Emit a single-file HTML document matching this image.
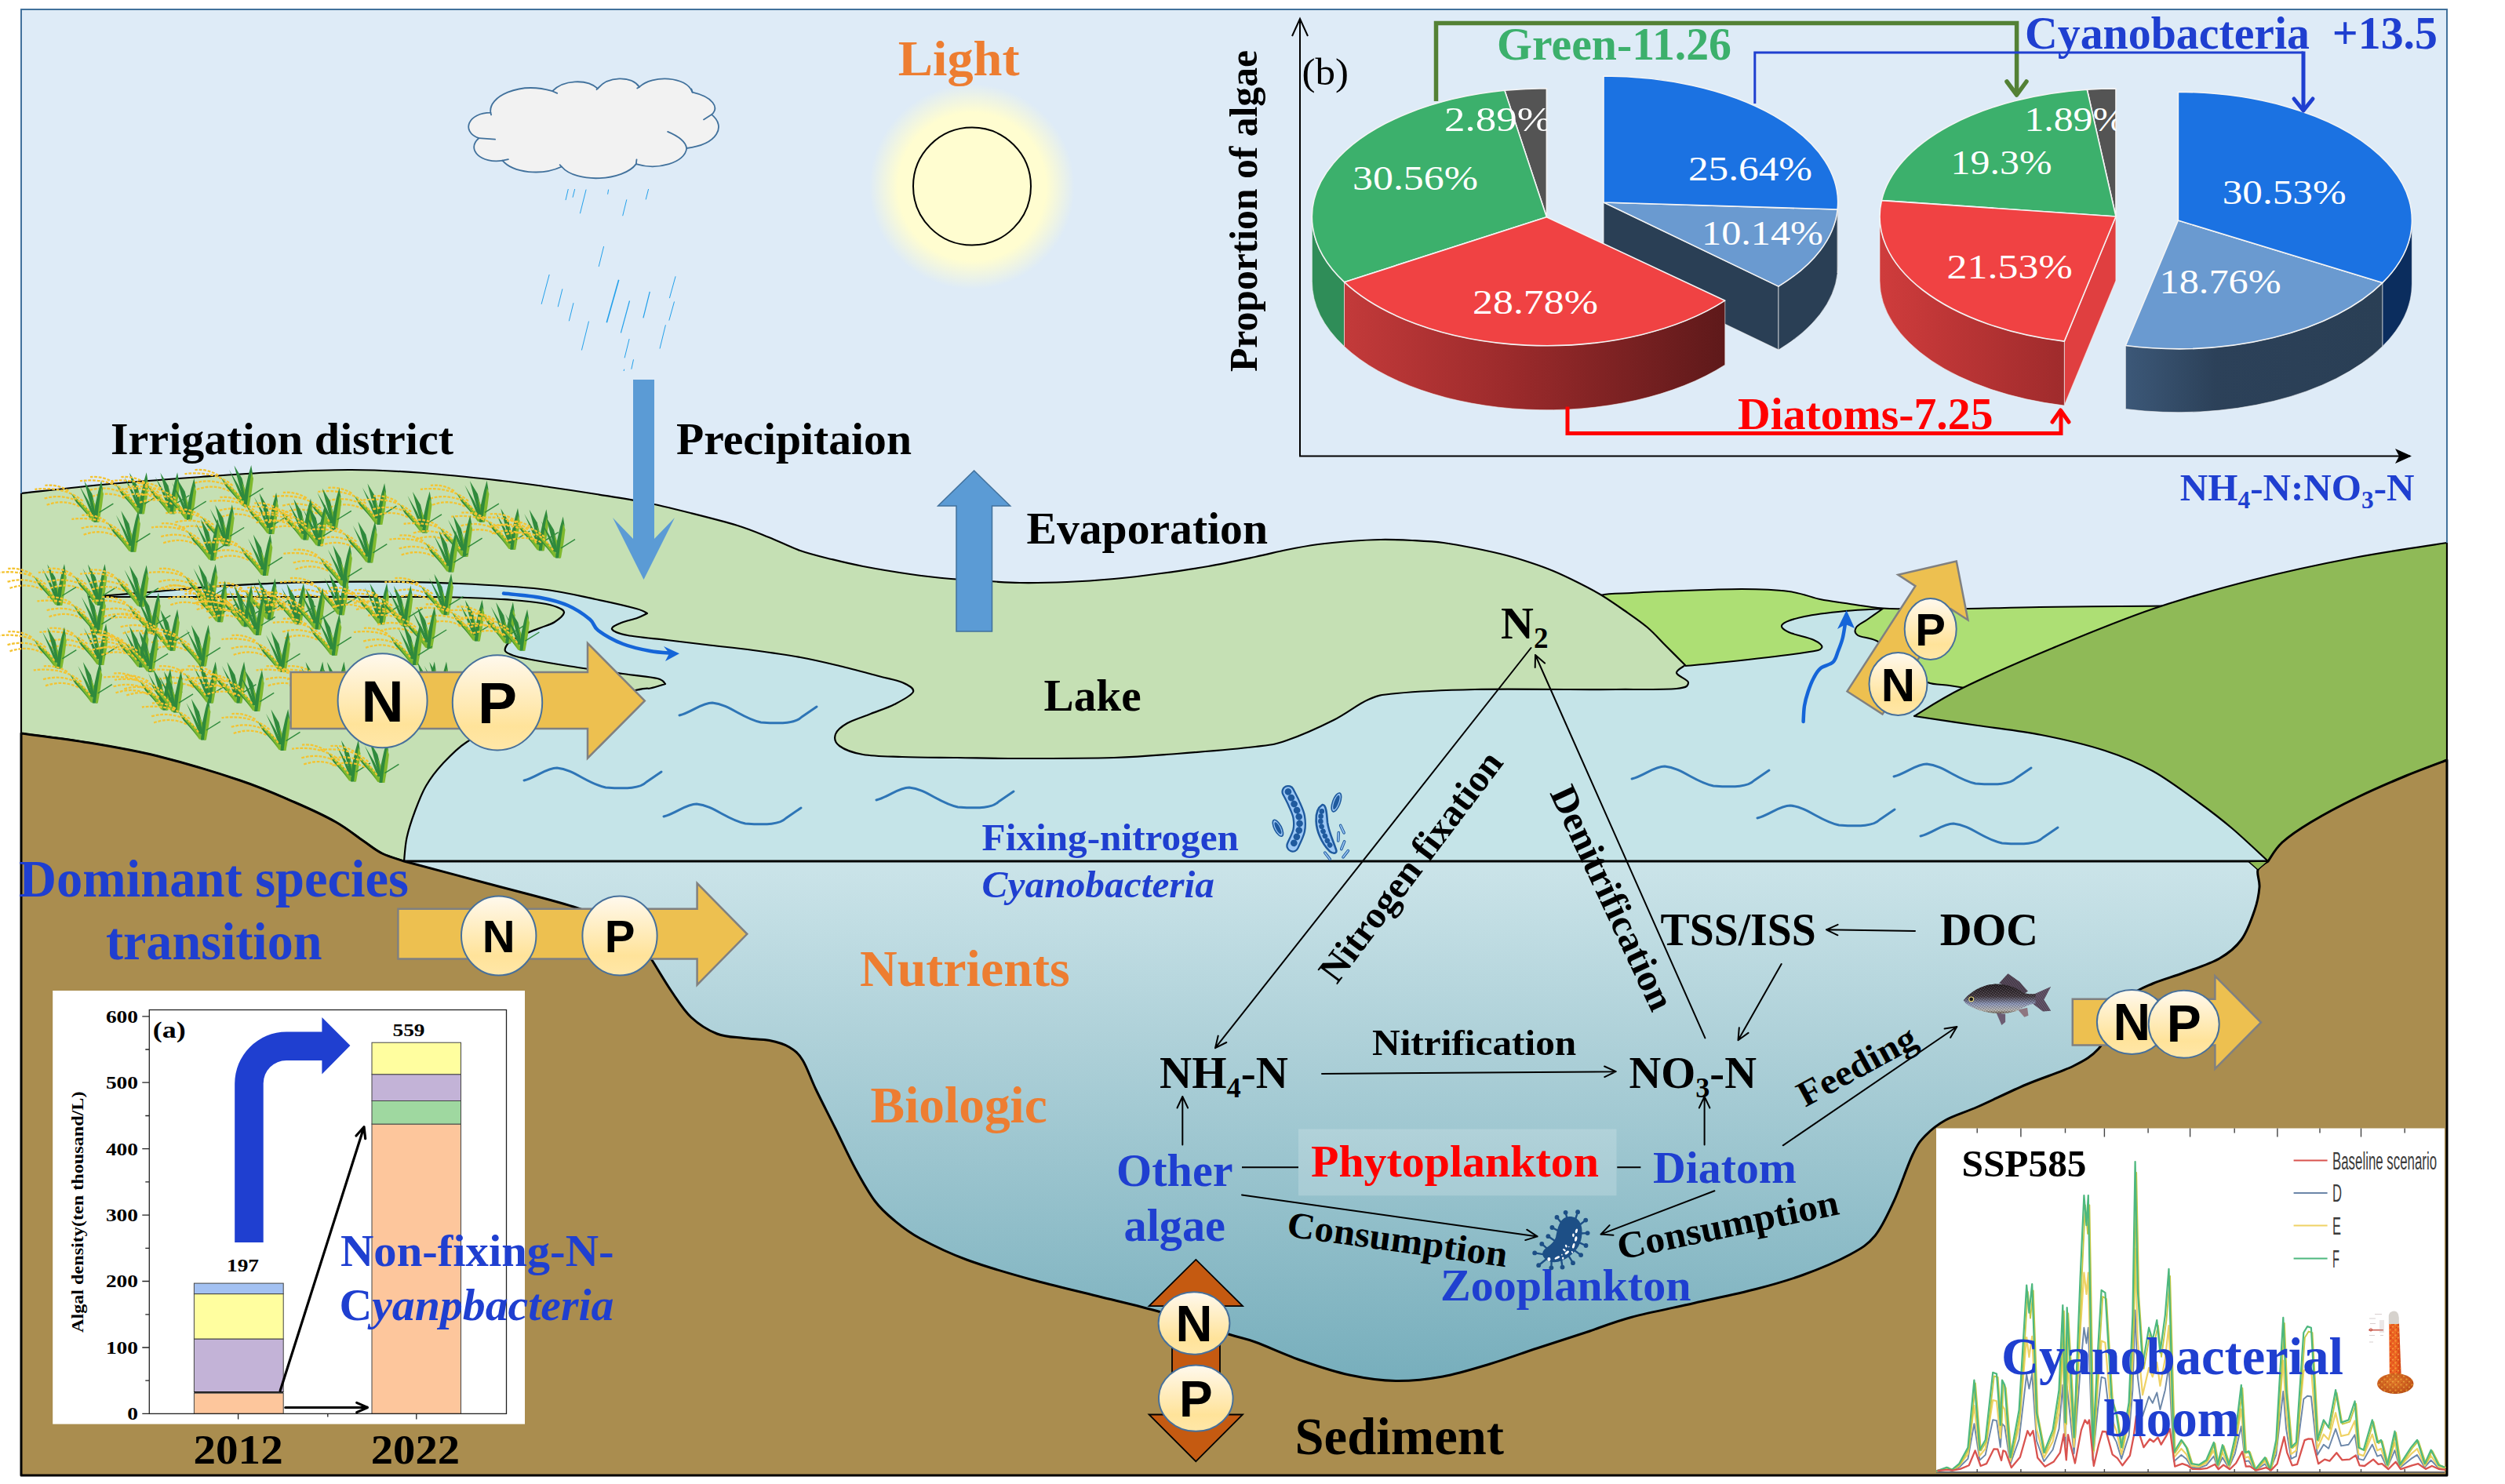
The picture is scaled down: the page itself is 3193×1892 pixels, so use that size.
<!DOCTYPE html>
<html lang="en"><head><meta charset="utf-8"><title>Lake nitrogen cycle and cyanobacterial bloom diagram</title>
<style>html,body{margin:0;padding:0;background:#fff}svg{display:block}</style></head><body>
<svg width="3193" height="1892" viewBox="0 0 3193 1892">
<defs>
<linearGradient id="lakeg" x1="0" x2="0" y1="0" y2="1"><stop offset="0" stop-color="#cbe4e9"/><stop offset="0.35" stop-color="#add0d8"/><stop offset="1" stop-color="#75adbb"/></linearGradient>
<linearGradient id="npg" x1="0" x2="0" y1="0" y2="1"><stop offset="0" stop-color="#fff9ee"/><stop offset="0.75" stop-color="#ffe39a"/><stop offset="1" stop-color="#ffe7a8"/></linearGradient>
<radialGradient id="sung"><stop offset="0" stop-color="#fffdd0"/><stop offset="0.72" stop-color="#fffdd0"/><stop offset="1" stop-color="#fffdd0" stop-opacity="0"/></radialGradient>
<symbol id="rice" overflow="visible"><g fill="none" stroke="#f4c330" stroke-width="2.3" stroke-dasharray="3.8 1.8"><path d="M-16,-27 C-30,-39 -50,-45 -77,-42"/><path d="M-18,-24 C-32,-33 -48,-35 -66,-30"/><path d="M-20,-20 C-34,-27 -48,-27 -62,-22"/><path d="M-34,-40 C-44,-46 -54,-48 -64,-47"/></g><path d="M1,0 L-4,-1 L-31,-37 L-12,-20 L-2,-8 Z" fill="#7fb92e"/><path d="M-3,-2 L-31,-37 L-24,-25 Z" fill="#2f8a3c"/><path d="M-4,-8 L-12,-28 L-20.5,-47.4 L-8.5,-27 L0,-8 Z" fill="#2f8a3c"/><path d="M-2,-8 L-9,-33 L-14,-52.5 L-4,-36 L1,-16 L2,-4 Z" fill="#2f8a3c"/><path d="M0,-12 L-4,-31 L0,-22 L2,-6 Z" fill="#7fb92e"/><path d="M-2,0 L0,-22 L4,-40 L7.7,-53 L9.5,-42 L8,-26 L5,-10 L4,0 Z" fill="#2f8a3c"/><path d="M2,0 L5,-24 L8,-44 L10.5,-36 L8.5,-20 L5,0 Z" fill="#7fb92e"/><path d="M5,-12.5 L23,-23.7" stroke="#2f8a3c" stroke-width="1.4" fill="none"/><g fill="none" stroke="#f4c330" stroke-width="2.2" stroke-dasharray="3.4 2"><path d="M-5,-10 C-11,-19 -18,-26 -27,-31"/></g></symbol></defs>
<rect width="3193" height="1892" fill="#fff"/>
<rect x="27" y="12" width="3092" height="1869" fill="#deebf7"/>
<rect x="100" y="740" width="1100" height="360" fill="#c5e4e8"/>
<rect x="1190" y="850" width="1720" height="250" fill="#c5e4e8"/>
<path d="M2010,775 C2015,772.3 2028.3,762.2 2040,759 C2051.7,755.8 2066.7,756.8 2080,756 C2093.3,755.2 2096.7,754.8 2120,754 C2143.3,753.2 2193.3,751 2220,751 C2246.7,751 2263.3,751.8 2280,754 C2296.7,756.2 2308,761.5 2320,764 C2332,766.5 2338.7,767.1 2352,769 C2365.3,770.9 2385.3,774.3 2400,775.5 C2414.7,776.7 2421.8,775.9 2440,776 C2458.2,776.1 2482.3,776.3 2509,776 C2535.7,775.7 2561.7,774.5 2600,774 C2638.3,773.5 2705.7,773 2739,772.7 C2772.3,772.4 2789.8,772.1 2800,772 L2800,905 L2010,905 Z" fill="#addf74"/>
<path d="M2010,775 C2015,772.3 2028.3,762.2 2040,759 C2051.7,755.8 2066.7,756.8 2080,756 C2093.3,755.2 2096.7,754.8 2120,754 C2143.3,753.2 2193.3,751 2220,751 C2246.7,751 2263.3,751.8 2280,754 C2296.7,756.2 2308,761.5 2320,764 C2332,766.5 2338.7,767.1 2352,769 C2365.3,770.9 2385.3,774.3 2400,775.5 C2414.7,776.7 2421.8,775.9 2440,776 C2458.2,776.1 2482.3,776.3 2509,776 C2535.7,775.7 2561.7,774.5 2600,774 C2638.3,773.5 2705.7,773 2739,772.7 C2772.3,772.4 2789.8,772.1 2800,772" fill="none" stroke="#000" stroke-width="2"/>
<path d="M2148,849 C2156.7,848.2 2174.7,846.8 2200,844 C2225.3,841.2 2279.7,835 2300,832 C2320.3,829 2320,828.7 2322,826 C2324,823.3 2319,819.3 2312,816 C2305,812.7 2286.7,809.3 2280,806 C2273.3,802.7 2268.7,799.3 2272,796 C2275.3,792.7 2286.7,788.8 2300,786 C2313.3,783.2 2335.3,780.7 2352,779 C2368.7,777.3 2392,776.5 2400,776 C2396.7,778.3 2385.7,786 2380,790 C2374.3,794 2368,796.7 2366,800 C2364,803.3 2363.7,807.2 2368,810 C2372.3,812.8 2383.3,812.8 2392,817 C2400.7,821.2 2412,828.7 2420,835 C2428,841.3 2433.8,849.2 2440,855 C2446.2,860.8 2449.5,866.8 2457,870 C2464.5,873.2 2476,872.7 2485,874 C2494,875.3 2506.7,877.3 2511,878 L2530,940 L2000,940 L2000,840 Z" fill="#c5e4e8"/>
<path d="M2148,849 C2156.7,848.2 2174.7,846.8 2200,844 C2225.3,841.2 2279.7,835 2300,832 C2320.3,829 2320,828.7 2322,826 C2324,823.3 2319,819.3 2312,816 C2305,812.7 2286.7,809.3 2280,806 C2273.3,802.7 2268.7,799.3 2272,796 C2275.3,792.7 2286.7,788.8 2300,786 C2313.3,783.2 2335.3,780.7 2352,779 C2368.7,777.3 2392,776.5 2400,776 C2396.7,778.3 2385.7,786 2380,790 C2374.3,794 2368,796.7 2366,800 C2364,803.3 2363.7,807.2 2368,810 C2372.3,812.8 2383.3,812.8 2392,817 C2400.7,821.2 2412,828.7 2420,835 C2428,841.3 2433.8,849.2 2440,855 C2446.2,860.8 2449.5,866.8 2457,870 C2464.5,873.2 2476,872.7 2485,874 C2494,875.3 2506.7,877.3 2511,878" fill="none" stroke="#000" stroke-width="2" stroke-linejoin="round"/>
<path d="M27,629 C45.8,627 101.8,620.5 140,617 C178.2,613.5 221,610.5 256,608 C291,605.5 318,603.5 350,602 C382,600.5 416.3,598.8 448,599 C479.7,599.2 508,600.7 540,603 C572,605.3 613.3,610 640,613 C666.7,616 680,618.2 700,621 C720,623.8 740,626.8 760,630 C780,633.2 800,636 820,640 C840,644 860,649 880,654 C900,659 923.3,664.8 940,670 C956.7,675.2 966.7,679.7 980,685 C993.3,690.3 1006.7,697.3 1020,702 C1033.3,706.7 1046.7,709.7 1060,713 C1073.3,716.3 1083.3,718.8 1100,722 C1116.7,725.2 1141.3,729.3 1160,732 C1178.7,734.7 1195.3,736.5 1212,738 C1228.7,739.5 1245.3,740.2 1260,741 C1274.7,741.8 1283.3,742.8 1300,743 C1316.7,743.2 1340,742.8 1360,742 C1380,741.2 1400,739.8 1420,738 C1440,736.2 1460,733.7 1480,731 C1500,728.3 1520,725.5 1540,722 C1560,718.5 1583.3,713.5 1600,710 C1616.7,706.5 1626.7,703.7 1640,701 C1653.3,698.3 1666.7,695.8 1680,694 C1693.3,692.2 1706.7,691 1720,690 C1733.3,689 1746.7,688.2 1760,688 C1773.3,687.8 1786.7,688.3 1800,689 C1813.3,689.7 1826.7,690.3 1840,692 C1853.3,693.7 1866.7,696.3 1880,699 C1893.3,701.7 1908.3,705 1920,708 C1931.7,711 1940,713.7 1950,717 C1960,720.3 1970,723.8 1980,728 C1990,732.2 2000,737 2010,742 C2020,747 2030,752 2040,758 C2050,764 2060,771 2070,778 C2080,785 2091,792.3 2100,800 C2109,807.7 2116,816 2124,824 C2132,832 2144,844 2148,848 C2146.2,849.7 2136.3,854.3 2137,858 C2137.7,861.7 2152,866.7 2152,870 C2152,873.3 2152.3,876.5 2137,878 C2121.7,879.5 2082.8,878.8 2060,879 C2037.2,879.2 2030,879 2000,879 C1970,879 1916.7,878.2 1880,879 C1843.3,879.8 1802.7,881.8 1780,884 C1757.3,886.2 1757.3,886.3 1744,892 C1730.7,897.7 1717.3,909.3 1700,918 C1682.7,926.7 1656.7,938.3 1640,944 C1623.3,949.7 1623.3,949.2 1600,952 C1576.7,954.8 1530,958.7 1500,961 C1470,963.3 1453.3,965 1420,966 C1386.7,967 1333.3,967 1300,967 C1266.7,967 1245,966.3 1220,966 C1195,965.7 1170,965.7 1150,965 C1130,964.3 1113.3,964.3 1100,962 C1086.7,959.7 1075.8,955.3 1070,951 C1064.2,946.7 1063.3,940.8 1065,936 C1066.7,931.2 1072.5,926.3 1080,922 C1087.5,917.7 1100,914 1110,910 C1120,906 1131,902.7 1140,898 C1149,893.3 1162.3,886.7 1164,882 C1165.7,877.3 1157.3,873.3 1150,870 C1142.7,866.7 1133.3,865.5 1120,862 C1106.7,858.5 1086.7,853 1070,849 C1053.3,845 1038.3,841.3 1020,838 C1001.7,834.7 980,831.7 960,829 C940,826.3 918.3,824.2 900,822 C881.7,819.8 866.7,818 850,816 C833.3,814 811.7,812.3 800,810 C788.3,807.7 781.3,804.7 780,802 C778.7,799.3 786.7,796.3 792,794 C797.3,791.7 806.5,790 812,788 C817.5,786 822.8,783 825,782 C822.7,781 822,779 811,776 C800,773 779.3,768.2 759,764 C738.7,759.8 718,754.3 689,751 C660,747.7 619.8,745.6 585,744 C550.2,742.4 514.8,741.8 480,741.6 C445.2,741.4 410.8,741.6 376,742.7 C341.2,743.8 302,746 271,748 C240,750 216.2,752.8 190,755 C163.8,757.2 126.7,760 114,761 C128.5,761 157.3,761 201,761 C244.7,761 317.8,761 376,761 C434.2,761 509.3,760.7 550,761 C590.7,761.3 602.7,762.3 620,763 C637.3,763.7 642.3,764 654,765 C665.7,766 680.7,767.5 690,769 C699.3,770.5 705.2,772 710,774 C714.8,776 719.5,777.8 719,781 C718.5,784.2 711.8,789.8 707,793 C702.2,796.2 695.8,797.7 690,800 C684.2,802.3 677.8,804.5 672,807 C666.2,809.5 659.2,812.7 655,815 C650.8,817.3 648.8,818.5 647,821 C645.2,823.5 642.7,827.5 644,830 C645.3,832.5 650.3,834.3 655,836 C659.7,837.7 660.5,837.8 672,840 C683.5,842.2 703.7,845.8 724,849 C744.3,852.2 775,856.3 794,859 C813,861.7 829,862.8 838,865 C847,867.2 846.3,870.8 848,872 C844.8,872.9 835.3,876.2 829,877.5 C822.7,878.8 831.5,875.4 810,880 C788.5,884.6 728.3,897.5 700,905 C671.7,912.5 657.5,918.2 640,925 C622.5,931.8 607.7,937.8 595,946 C582.3,954.2 572.7,964.7 564,974 C555.3,983.3 548.8,992 543,1002 C537.2,1012 533.1,1023 529,1034 C524.9,1045 520.8,1057.3 518.5,1068 C516.2,1078.7 515.6,1093 515,1098 C510.3,1096.3 495.7,1092.3 487,1088 C478.3,1083.7 472.8,1078.7 463,1072 C453.2,1065.3 442.5,1056.2 428,1048 C413.5,1039.8 396.3,1031.8 376,1023 C355.7,1014.2 335.2,1004.8 306,995 C276.8,985.2 233,972 201,964 C169,956 143,951.8 114,947 C85,942.2 41.5,937 27,935 Z" fill="#c5e0b4" stroke="#000" stroke-width="2.2" stroke-linejoin="round"/>
<path d="M2440,913 C2450.3,907 2472.5,891.5 2502,877 C2531.5,862.5 2576.5,842.8 2617,826 C2657.5,809.2 2702.3,790.5 2745,776 C2787.7,761.5 2830.3,749.8 2873,739 C2915.7,728.2 2960,718.8 3001,711 C3042,703.2 3099.3,695.2 3119,692 L3119,969 L3067,989 L3006,1016 L2946,1048 L2909,1074 L2891,1098 C2883.3,1091 2859.5,1068.3 2845,1056 C2830.5,1043.7 2820.8,1036.2 2804,1024 C2787.2,1011.8 2764.2,994.2 2744,983 C2723.8,971.8 2706.7,964.7 2683,957 C2659.3,949.3 2629,942.3 2602,937 C2575,931.7 2548,929 2521,925 C2494,921 2453.5,915 2440,913 Z" fill="#8fba57" stroke="#000" stroke-width="2.2" stroke-linejoin="round"/>
<rect x="500" y="1098" width="2400" height="680" fill="url(#lakeg)"/>
<line x1="512" y1="1098" x2="2891" y2="1098" stroke="#000" stroke-width="2.8"/>
<path d="M27,935 C41.5,937 85,942.2 114,947 C143,951.8 169,956 201,964 C233,972 276.8,985.2 306,995 C335.2,1004.8 355.7,1014.2 376,1023 C396.3,1031.8 413.5,1039.8 428,1048 C442.5,1056.2 453.2,1065.3 463,1072 C472.8,1078.7 478.3,1083.7 487,1088 C495.7,1092.3 510.3,1096.3 515,1098 C532.5,1102.7 584,1116.3 620,1126 C656,1135.7 702.7,1147 731,1156 C759.3,1165 776,1172.7 790,1180 C804,1187.3 808.2,1192.7 815,1200 C821.8,1207.3 824.2,1213.3 831,1224 C837.8,1234.7 847.7,1251.8 856,1264 C864.3,1276.2 871.3,1288 881,1297 C890.7,1306 902.8,1313.6 914,1318 C925.2,1322.4 936.8,1322.1 948,1323.5 C959.2,1324.9 971.3,1324.6 981,1326.5 C990.7,1328.4 999,1330.8 1006,1335 C1013,1339.2 1017.3,1342.5 1023,1351.5 C1028.7,1360.5 1033,1374.4 1040,1389 C1047,1403.6 1056.7,1422.2 1065,1439 C1073.3,1455.8 1081.7,1474.2 1090,1489.5 C1098.3,1504.8 1106.7,1519.9 1115,1531 C1123.3,1542.1 1130.3,1548 1140,1556 C1149.7,1564 1157.7,1570.7 1173,1579 C1188.3,1587.3 1208.3,1597.2 1232,1606 C1255.7,1614.8 1287.2,1623.8 1315,1631.5 C1342.8,1639.2 1371.5,1645.6 1399,1652.5 C1426.5,1659.4 1452.2,1664.9 1480,1673 C1507.8,1681.1 1546,1694.7 1566,1701 C1586,1707.3 1584.3,1705.3 1600,1711 C1615.7,1716.7 1640,1728 1660,1735 C1680,1742 1700.2,1748.8 1720,1753 C1739.8,1757.2 1759.2,1760.2 1779,1760.5 C1798.8,1760.8 1819,1758.6 1839,1755 C1859,1751.4 1879,1745 1899,1739 C1919,1733 1939,1725.6 1959,1719 C1979,1712.4 1999,1706.1 2019,1699.5 C2039,1692.9 2055.7,1685.8 2079,1679.5 C2102.3,1673.2 2132.5,1667.5 2159,1661.5 C2185.5,1655.5 2214.8,1649.5 2238,1643.5 C2261.2,1637.5 2278,1632.8 2298,1625.5 C2318,1618.2 2342.7,1607.8 2358,1599.5 C2373.3,1591.2 2380.7,1586.8 2390,1575.5 C2399.3,1564.2 2406,1548.8 2414,1531.5 C2422,1514.2 2431.3,1485.9 2438,1472 C2444.7,1458.1 2447,1455.3 2454,1448 C2461,1440.7 2468.8,1434.2 2480,1428 C2491.2,1421.8 2504,1418.5 2521,1411 C2538,1403.5 2561.7,1391.7 2582,1383 C2602.3,1374.3 2627.5,1366.7 2643,1359 C2658.5,1351.3 2666,1346.8 2675,1337 C2684,1327.2 2690.3,1311.2 2697,1300 C2703.7,1288.8 2707.2,1277.7 2715,1270 C2722.8,1262.3 2732.5,1259 2744,1254 C2755.5,1249 2769.8,1245.3 2784,1240 C2798.2,1234.7 2816.8,1229 2829,1222 C2841.2,1215 2849.5,1208.3 2857,1198 C2864.5,1187.7 2870.2,1171.2 2874,1160 C2877.8,1148.8 2879.3,1139.5 2880,1131 C2880.7,1122.5 2876.2,1114.5 2878,1109 C2879.8,1103.5 2888.8,1099.8 2891,1098 C2894,1094 2899.8,1082.3 2909,1074 C2918.2,1065.7 2929.8,1057.7 2946,1048 C2962.2,1038.3 2985.8,1025.8 3006,1016 C3026.2,1006.2 3048.2,996.8 3067,989 C3085.8,981.2 3110.3,972.3 3119,969 L3119,1881 L27,1881 Z" fill="#aa8d4f" stroke="#000" stroke-width="3" stroke-linejoin="round"/><path d="M2866,1098.5 L2891,1098 L2878,1109 Z" fill="#8fba57" stroke="#000" stroke-width="1.5" stroke-linejoin="round"/>
<path d="M27,629 L27,12 L3119,12 L3119,692" fill="none" stroke="#41719c" stroke-width="2"/>
<use href="#rice" x="312.5" y="646.1"/>
<use href="#rice" x="179" y="655.2"/>
<use href="#rice" x="218.4" y="655.2"/>
<use href="#rice" x="239.7" y="662.8"/>
<use href="#rice" x="121.4" y="665.8"/>
<use href="#rice" x="612.9" y="665.8"/>
<use href="#rice" x="482.4" y="668.9"/>
<use href="#rice" x="424.8" y="675"/>
<use href="#rice" x="540" y="679.5"/>
<use href="#rice" x="344.4" y="681"/>
<use href="#rice" x="388.3" y="688.6"/>
<use href="#rice" x="288.2" y="696.2"/>
<use href="#rice" x="406.6" y="696.2"/>
<use href="#rice" x="652.3" y="700.7"/>
<use href="#rice" x="688.7" y="702.3"/>
<use href="#rice" x="168.4" y="703.8"/>
<use href="#rice" x="591.6" y="709.8"/>
<use href="#rice" x="710" y="711.4"/>
<use href="#rice" x="270" y="714.4"/>
<use href="#rice" x="470.3" y="717.4"/>
<use href="#rice" x="573.4" y="729.6"/>
<use href="#rice" x="336.8" y="734.1"/>
<use href="#rice" x="438.4" y="747.8"/>
<use href="#rice" x="74.3" y="772"/>
<use href="#rice" x="125.9" y="772"/>
<use href="#rice" x="267" y="772"/>
<use href="#rice" x="179" y="773.6"/>
<use href="#rice" x="433.9" y="784.2"/>
<use href="#rice" x="567.4" y="784.2"/>
<use href="#rice" x="342.8" y="790.2"/>
<use href="#rice" x="279.1" y="793.3"/>
<use href="#rice" x="379.2" y="796.3"/>
<use href="#rice" x="485.4" y="796.3"/>
<use href="#rice" x="312.5" y="799.3"/>
<use href="#rice" x="515.8" y="799.3"/>
<use href="#rice" x="403.5" y="802.4"/>
<use href="#rice" x="124.4" y="808.4"/>
<use href="#rice" x="194.2" y="808.4"/>
<use href="#rice" x="327.7" y="810"/>
<use href="#rice" x="606.8" y="817.5"/>
<use href="#rice" x="646.2" y="820.6"/>
<use href="#rice" x="546.1" y="826.7"/>
<use href="#rice" x="218.4" y="829.7"/>
<use href="#rice" x="664.4" y="829.7"/>
<use href="#rice" x="424.8" y="835.8"/>
<use href="#rice" x="527.9" y="847.9"/>
<use href="#rice" x="127.4" y="847.9"/>
<use href="#rice" x="257.9" y="849.4"/>
<use href="#rice" x="179" y="850.9"/>
<use href="#rice" x="74.3" y="852.4"/>
<use href="#rice" x="359.5" y="857"/>
<use href="#rice" x="191.1" y="857"/>
<use href="#rice" x="119.8" y="896.4"/>
<use href="#rice" x="267" y="896.4"/>
<use href="#rice" x="303.4" y="896.4"/>
<use href="#rice" x="403.5" y="896.4"/>
<use href="#rice" x="430.8" y="896.4"/>
<use href="#rice" x="546.1" y="896.4"/>
<use href="#rice" x="561.3" y="896.4"/>
<use href="#rice" x="209.3" y="905.5"/>
<use href="#rice" x="326.2" y="907.1"/>
<use href="#rice" x="223" y="908.6"/>
<use href="#rice" x="257.9" y="943.5"/>
<use href="#rice" x="359.5" y="957.1"/>
<use href="#rice" x="449" y="996.6"/>
<use href="#rice" x="485.4" y="998.1"/>
<path d="M866,912 c16,-4 28,-16 42,-16 c22,2 38,20 62,25 c28,2 44,1 52,-7 l19,-13" fill="none" stroke="#2e75b6" stroke-width="3" stroke-linecap="round" stroke-linejoin="round"/>
<path d="M668,995 c16,-4 28,-16 42,-16 c22,2 38,20 62,25 c28,2 44,1 52,-7 l19,-13" fill="none" stroke="#2e75b6" stroke-width="3" stroke-linecap="round" stroke-linejoin="round"/>
<path d="M846,1041 c16,-4 28,-16 42,-16 c22,2 38,20 62,25 c28,2 44,1 52,-7 l19,-13" fill="none" stroke="#2e75b6" stroke-width="3" stroke-linecap="round" stroke-linejoin="round"/>
<path d="M1117,1020 c16,-4 28,-16 42,-16 c22,2 38,20 62,25 c28,2 44,1 52,-7 l19,-13" fill="none" stroke="#2e75b6" stroke-width="3" stroke-linecap="round" stroke-linejoin="round"/>
<path d="M2080,993 c16,-4 28,-16 42,-16 c22,2 38,20 62,25 c28,2 44,1 52,-7 l19,-13" fill="none" stroke="#2e75b6" stroke-width="3" stroke-linecap="round" stroke-linejoin="round"/>
<path d="M2414,990 c16,-4 28,-16 42,-16 c22,2 38,20 62,25 c28,2 44,1 52,-7 l19,-13" fill="none" stroke="#2e75b6" stroke-width="3" stroke-linecap="round" stroke-linejoin="round"/>
<path d="M2240,1043 c16,-4 28,-16 42,-16 c22,2 38,20 62,25 c28,2 44,1 52,-7 l19,-13" fill="none" stroke="#2e75b6" stroke-width="3" stroke-linecap="round" stroke-linejoin="round"/>
<path d="M2448,1066 c16,-4 28,-16 42,-16 c22,2 38,20 62,25 c28,2 44,1 52,-7 l19,-13" fill="none" stroke="#2e75b6" stroke-width="3" stroke-linecap="round" stroke-linejoin="round"/>
<path d="M642,756.6 C649.8,757.5 675.3,759.4 689,762 C702.7,764.6 713.5,767.4 724,772 C734.5,776.6 745.6,784.4 752,789.7 C758.4,795 755.5,798.5 762.5,803.7 C769.5,808.9 783,816.6 794,821 C805,825.4 818,828 828.7,830 C839.4,832 853.1,832.5 858,833" fill="none" stroke="#1565d8" stroke-width="4.5" stroke-linecap="round"/>
<path d="M866,833.3 L846,824 L853,833 L848,843 Z" fill="#1565d8"/>
<path d="M2298.6,920 C2298.8,916.7 2299,906.3 2300,900 C2301,893.7 2302.6,888 2304.6,882 C2306.6,876 2309.3,869 2312,864 C2314.7,859 2316.5,855.3 2320.6,852 C2324.7,848.7 2332.9,847.7 2336.6,844 C2340.3,840.3 2341,835 2343,830 C2345,825 2347.1,819.8 2348.6,814 C2350.1,808.2 2351.4,798.2 2352,795" fill="none" stroke="#1565d8" stroke-width="4.5" stroke-linecap="round"/>
<path d="M2353.6,778 L2342,802 L2352.5,796 L2364,801 Z" fill="#1565d8"/>
<circle cx="1239" cy="238" r="131" fill="url(#sung)"/>
<circle cx="1239" cy="237.6" r="75" fill="#fffdd0" stroke="#000" stroke-width="2"/>
<text x="1144.7" y="96" font-family="'Liberation Serif','Times New Roman',serif" font-size="63" fill="#ed7d31" font-weight="bold" textLength="154.9" lengthAdjust="spacingAndGlyphs">Light</text>
<path d="M625.4,143.7 C622,123.6 660.6,103.5 704.2,116.2 C717.6,101.8 747.8,100.1 761.9,112.9 C774.6,96.8 804.8,96.1 814.9,110.9 C831.6,95.1 875.2,96.8 882.6,117.6 C908.8,123.6 917.1,137 907.1,146.1 C925.5,160.5 915.5,184 875.2,189 C873.5,207.4 838.3,217.5 810.8,209.1 C794.7,230.9 734.4,234.3 715.9,212.5 C690.8,224.2 653.9,220.8 640.5,204.7 C613.7,209.1 593.5,190.7 610.3,176.2 C586.8,167.2 596.9,143.7 625.4,143.7 Z" fill="#f2f2f2" stroke="#41719c" stroke-width="1.8" stroke-linejoin="round"/>
<path d="M704.2,116.2 L710.2,118.9" stroke="#41719c" stroke-width="1.8" fill="none" stroke-linecap="round"/>
<path d="M882.6,117.6 L881.3,113.5" stroke="#41719c" stroke-width="1.8" fill="none" stroke-linecap="round"/>
<path d="M907.1,146.1 L897,152.4" stroke="#41719c" stroke-width="1.8" fill="none" stroke-linecap="round"/>
<path d="M875.2,189 Q873.5,177.3 851.1,167.9" stroke="#41719c" stroke-width="1.8" fill="none" stroke-linecap="round"/>
<path d="M810.8,209.1 L811.5,203.4" stroke="#41719c" stroke-width="1.8" fill="none" stroke-linecap="round"/>
<path d="M715.9,212.5 L713.6,210.1" stroke="#41719c" stroke-width="1.8" fill="none" stroke-linecap="round"/>
<path d="M640.5,204.7 L647.9,203.1" stroke="#41719c" stroke-width="1.8" fill="none" stroke-linecap="round"/>
<path d="M610.3,176.2 L631.1,177.6" stroke="#41719c" stroke-width="1.8" fill="none" stroke-linecap="round"/>
<path d="M625.4,143.7 L626.1,146.4" stroke="#41719c" stroke-width="1.8" fill="none" stroke-linecap="round"/>
<path d="M761.9,112.9 L760.5,114.2" stroke="#41719c" stroke-width="1.8" fill="none" stroke-linecap="round"/>
<path d="M814.9,110.9 L812.2,112.5" stroke="#41719c" stroke-width="1.8" fill="none" stroke-linecap="round"/>
<path d="M724.3,241 L721,255.1" stroke="#22a0ea" stroke-width="1" fill="none"/>
<path d="M732.7,241 L730,251.7" stroke="#22a0ea" stroke-width="1" fill="none"/>
<path d="M747.1,241.6 L739.4,272.2" stroke="#22a0ea" stroke-width="1" fill="none"/>
<path d="M775.6,241.6 L774.6,247.7" stroke="#22a0ea" stroke-width="1" fill="none"/>
<path d="M826.6,241 L823.2,254.4" stroke="#22a0ea" stroke-width="1" fill="none"/>
<path d="M798.8,254.4 L793.7,275.2" stroke="#22a0ea" stroke-width="1" fill="none"/>
<path d="M769.6,314.1 L763.2,339.9" stroke="#22a0ea" stroke-width="1" fill="none"/>
<path d="M700.2,350 L690.1,387.8" stroke="#22a0ea" stroke-width="1" fill="none"/>
<path d="M716.9,368.4 L711.2,391.2" stroke="#22a0ea" stroke-width="1" fill="none"/>
<path d="M731,386.2 L725.3,409.3" stroke="#22a0ea" stroke-width="1" fill="none"/>
<path d="M788.7,356.7 L773.3,411.3" stroke="#22a0ea" stroke-width="1.6" fill="none"/>
<path d="M802.5,383.5 L791.4,424.4" stroke="#22a0ea" stroke-width="1.2" fill="none"/>
<path d="M828.3,371.8 L819.9,405.3" stroke="#22a0ea" stroke-width="1.2" fill="none"/>
<path d="M861.1,352.3 L853.4,380.1" stroke="#22a0ea" stroke-width="1" fill="none"/>
<path d="M859.5,384.5 L852.8,408.6" stroke="#22a0ea" stroke-width="1" fill="none"/>
<path d="M750.5,409.6 L741.4,446.5" stroke="#22a0ea" stroke-width="1" fill="none"/>
<path d="M848.4,414.3 L841,444.5" stroke="#22a0ea" stroke-width="1" fill="none"/>
<path d="M802.1,432.1 L796.1,456.3" stroke="#22a0ea" stroke-width="1" fill="none"/>
<path d="M807.5,458.3 L804.8,470.7" stroke="#22a0ea" stroke-width="1" fill="none"/>
<path d="M795.7,470.7 L795.1,473" stroke="#22a0ea" stroke-width="1" fill="none"/>
<path d="M807,484 L834,484 L834,687 L860,660 L820.5,739 L781,660 L807,687 Z" fill="#5b9bd5"/>
<path d="M1241.6,600 L1287.7,645 L1264.5,645 L1264.5,805 L1219,805 L1219,645 L1195.6,645 Z" fill="#5b9bd5" stroke="#41719c" stroke-width="1.5"/>
<text x="141" y="579" font-family="'Liberation Serif','Times New Roman',serif" font-size="58" fill="#000" font-weight="bold" textLength="437" lengthAdjust="spacingAndGlyphs">Irrigation district</text>
<text x="862" y="579" font-family="'Liberation Serif','Times New Roman',serif" font-size="58" fill="#000" font-weight="bold" textLength="300" lengthAdjust="spacingAndGlyphs">Precipitaion</text>
<text x="1308.5" y="692.5" font-family="'Liberation Serif','Times New Roman',serif" font-size="58" fill="#000" font-weight="bold" textLength="307.5" lengthAdjust="spacingAndGlyphs">Evaporation</text>
<text x="1330.5" y="905.5" font-family="'Liberation Serif','Times New Roman',serif" font-size="58" fill="#000" font-weight="bold" textLength="124.1" lengthAdjust="spacingAndGlyphs">Lake</text>
<path d="M1641.9,1009.4 C1643.1,1011.8 1646.8,1018.5 1649.1,1023.8 C1651.4,1029.2 1654.6,1035.5 1655.7,1041.3 C1656.7,1047.2 1657,1052.7 1655.7,1058.9 C1654.3,1065 1649.1,1074.9 1647.8,1078.2" fill="none" stroke="#1f5a9e" stroke-width="17" stroke-linecap="round"/>
<path d="M1641.9,1009.4 C1643.1,1011.8 1646.8,1018.5 1649.1,1023.8 C1651.4,1029.2 1654.6,1035.5 1655.7,1041.3 C1656.7,1047.2 1657,1052.7 1655.7,1058.9 C1654.3,1065 1649.1,1074.9 1647.8,1078.2" fill="none" stroke="#9cc8f5" stroke-width="12.4" stroke-linecap="round"/>
<path d="M1641.9,1009.4 C1643.1,1011.8 1646.8,1018.5 1649.1,1023.8 C1651.4,1029.2 1654.6,1035.5 1655.7,1041.3 C1656.7,1047.2 1657,1052.7 1655.7,1058.9 C1654.3,1065 1649.1,1074.9 1647.8,1078.2" fill="none" stroke="#1f5a9e" stroke-width="8.6" stroke-linecap="round" stroke-dasharray="0.1 8.6"/>
<path d="M1685.5,1026 C1690.3,1025.6 1691.1,1036.1 1692,1048.4 C1693.8,1061.5 1699.9,1072.9 1703.4,1084.3 C1703.9,1088.7 1699,1088.7 1694.7,1085.2 C1684.1,1074.7 1678,1058.9 1677.6,1046.6 C1677.1,1036.1 1680.6,1029.1 1685.5,1026 Z" fill="#9cc8f5" stroke="#1f5a9e" stroke-width="2.6"/>
<path d="M1684.8,1034.3 C1684.6,1036.4 1682.9,1042.2 1683.3,1046.6 C1683.6,1051 1685.2,1056.1 1686.8,1060.6 C1688.4,1065.2 1690.9,1070.2 1692.9,1073.8 C1694.9,1077.4 1697.6,1080.7 1698.6,1082.1" fill="none" stroke="#1f5a9e" stroke-width="6.6" stroke-linecap="round" stroke-dasharray="0.1 6.4"/>
<ellipse cx="1628.9" cy="1055.8" rx="4.6" ry="11.5" fill="#9cc8f5" stroke="#1f5a9e" stroke-width="1.6" transform="rotate(-27 1628.9 1055.8)"/>
<ellipse cx="1628.9" cy="1055.8" rx="2.6" ry="8.5" fill="#1f5a9e" transform="rotate(-27 1628.9 1055.8)"/>
<ellipse cx="1703.4" cy="1022.9" rx="4.8" ry="12.6" fill="#9cc8f5" stroke="#1f5a9e" stroke-width="1.6" transform="rotate(20 1703.4 1022.9)"/>
<ellipse cx="1703.4" cy="1022.9" rx="2.8" ry="9.6" fill="#1f5a9e" transform="rotate(20 1703.4 1022.9)"/>
<rect x="1709.6" y="1050.6" width="2.6" height="13" rx="1.3" fill="#9cc8f5" stroke="#1f5a9e" stroke-width="1" transform="rotate(-25 1710.9 1057.1)"/>
<rect x="1704.7" y="1060.3" width="2.6" height="13" rx="1.3" fill="#9cc8f5" stroke="#1f5a9e" stroke-width="1" transform="rotate(3 1706 1066.8)"/>
<rect x="1710.4" y="1071.2" width="2.6" height="13" rx="1.3" fill="#9cc8f5" stroke="#1f5a9e" stroke-width="1" transform="rotate(22 1711.7 1077.7)"/>
<rect x="1713.9" y="1082.2" width="2.6" height="13" rx="1.3" fill="#9cc8f5" stroke="#1f5a9e" stroke-width="1" transform="rotate(38 1715.2 1088.7)"/>
<rect x="1690.7" y="1084.8" width="2.6" height="13" rx="1.3" fill="#9cc8f5" stroke="#1f5a9e" stroke-width="1" transform="rotate(-38 1692 1091.3)"/>
<path d="M1951.5,826 L1549,1336.2 M1552.7,1320.6 L1549,1336.2 M1563.3,1329 L1549,1336.2" fill="none" stroke="#000" stroke-width="2" stroke-linecap="round" stroke-linejoin="round"/>
<path d="M2173.4,1323.4 L1957,835 M1969.1,845.5 L1957,835 M1956.7,851 L1957,835" fill="none" stroke="#000" stroke-width="2" stroke-linecap="round" stroke-linejoin="round"/>
<path d="M1685,1369 L2059.7,1366.2 M2045.3,1373.1 L2059.7,1366.2 M2045.1,1359.5 L2059.7,1366.2" fill="none" stroke="#000" stroke-width="2" stroke-linecap="round" stroke-linejoin="round"/>
<path d="M2270.7,1229 L2215.5,1326.2 M2216.8,1310.3 L2215.5,1326.2 M2228.5,1316.9 L2215.5,1326.2" fill="none" stroke="#000" stroke-width="2" stroke-linecap="round" stroke-linejoin="round"/>
<path d="M2441,1187 L2328,1185.3 M2342.6,1178.8 L2328,1185.3 M2342.4,1192.3 L2328,1185.3" fill="none" stroke="#000" stroke-width="2" stroke-linecap="round" stroke-linejoin="round"/>
<path d="M1507.3,1459.5 L1507.3,1398 M1514.1,1412.5 L1507.3,1398 M1500.5,1412.5 L1507.3,1398" fill="none" stroke="#000" stroke-width="2" stroke-linecap="round" stroke-linejoin="round"/>
<path d="M2172.6,1459.5 L2172.6,1398 M2179.4,1412.5 L2172.6,1398 M2165.8,1412.5 L2172.6,1398" fill="none" stroke="#000" stroke-width="2" stroke-linecap="round" stroke-linejoin="round"/>
<path d="M1583,1488.3 L1655,1488.3 M2061.3,1488.3 L2091.4,1488.3" stroke="#000" stroke-width="2"/>
<path d="M1583,1523.5 L1959.6,1576.4 M1944.3,1581.1 L1959.6,1576.4 M1946.2,1567.7 L1959.6,1576.4" fill="none" stroke="#000" stroke-width="2" stroke-linecap="round" stroke-linejoin="round"/>
<path d="M2185.4,1518.3 L2040.5,1573.6 M2051.6,1562.1 L2040.5,1573.6 M2056.5,1574.7 L2040.5,1573.6" fill="none" stroke="#000" stroke-width="2" stroke-linecap="round" stroke-linejoin="round"/>
<path d="M2272.7,1460.3 L2494.4,1309 M2486.2,1322.8 L2494.4,1309 M2478.6,1311.6 L2494.4,1309" fill="none" stroke="#000" stroke-width="2" stroke-linecap="round" stroke-linejoin="round"/>
<text x="1913" y="814" font-family="'Liberation Serif','Times New Roman',serif" font-size="58" fill="#000" font-weight="bold">N<tspan font-size="37.1" dy="11.6">2</tspan><tspan dy="-11.6" font-size="1">&#8203;</tspan></text>
<text x="1478" y="1387.4" font-family="'Liberation Serif','Times New Roman',serif" font-size="57" fill="#000" font-weight="bold">NH<tspan font-size="36.5" dy="11.4">4</tspan><tspan dy="-11.4" font-size="1">&#8203;</tspan>-N</text>
<text x="2076.5" y="1387.4" font-family="'Liberation Serif','Times New Roman',serif" font-size="56.5" fill="#000" font-weight="bold">NO<tspan font-size="36.2" dy="11.3">3</tspan><tspan dy="-11.3" font-size="1">&#8203;</tspan>-N</text>
<text x="1749" y="1345" font-family="'Liberation Serif','Times New Roman',serif" font-size="47" fill="#000" font-weight="bold" textLength="260.3" lengthAdjust="spacingAndGlyphs">Nitrification</text>
<text x="2116.6" y="1205" font-family="'Liberation Serif','Times New Roman',serif" font-size="60" fill="#000" font-weight="bold" textLength="198.1" lengthAdjust="spacingAndGlyphs">TSS/ISS</text>
<text x="2472.8" y="1205" font-family="'Liberation Serif','Times New Roman',serif" font-size="60" fill="#000" font-weight="bold" textLength="125.2" lengthAdjust="spacingAndGlyphs">DOC</text>
<text x="1251.6" y="1084" font-family="'Liberation Serif','Times New Roman',serif" font-size="49" fill="#1f3fd0" font-weight="bold" textLength="327.4" lengthAdjust="spacingAndGlyphs">Fixing-nitrogen</text>
<text x="1251.6" y="1143.5" font-family="'Liberation Serif','Times New Roman',serif" font-size="49" fill="#1f3fd0" font-weight="bold" font-style="italic" textLength="296.4" lengthAdjust="spacingAndGlyphs">Cyanobacteria</text>
<text x="1096" y="1257" font-family="'Liberation Serif','Times New Roman',serif" font-size="65" fill="#ed7d31" font-weight="bold" textLength="267.6" lengthAdjust="spacingAndGlyphs">Nutrients</text>
<text x="1109.5" y="1430.5" font-family="'Liberation Serif','Times New Roman',serif" font-size="65" fill="#ed7d31" font-weight="bold" textLength="225.3" lengthAdjust="spacingAndGlyphs">Biologic</text>
<text x="1423" y="1512.4" font-family="'Liberation Serif','Times New Roman',serif" font-size="58.5" fill="#1f3fd0" font-weight="bold" textLength="148.5" lengthAdjust="spacingAndGlyphs">Other</text>
<text x="1432.5" y="1582.3" font-family="'Liberation Serif','Times New Roman',serif" font-size="59" fill="#1f3fd0" font-weight="bold" textLength="129.5" lengthAdjust="spacingAndGlyphs">algae</text>
<rect x="1655" y="1439.5" width="405.5" height="84.8" fill="#fff" fill-opacity="0.18"/>
<text x="1671" y="1500.3" font-family="'Liberation Serif','Times New Roman',serif" font-size="56" fill="#ff0000" font-weight="bold" textLength="367" lengthAdjust="spacingAndGlyphs">Phytoplankton</text>
<text x="2107" y="1508.3" font-family="'Liberation Serif','Times New Roman',serif" font-size="57" fill="#1f3fd0" font-weight="bold" textLength="183" lengthAdjust="spacingAndGlyphs">Diatom</text>
<text x="1836" y="1657.6" font-family="'Liberation Serif','Times New Roman',serif" font-size="56" fill="#1f3fd0" font-weight="bold" textLength="319.5" lengthAdjust="spacingAndGlyphs">Zooplankton</text>
<text x="1650.5" y="1854" font-family="'Liberation Serif','Times New Roman',serif" font-size="67" fill="#000" font-weight="bold" textLength="266.5" lengthAdjust="spacingAndGlyphs">Sediment</text>
<text x="24" y="1142.5" font-family="'Liberation Serif','Times New Roman',serif" font-size="68" fill="#1f3fd0" font-weight="bold" textLength="497" lengthAdjust="spacingAndGlyphs">Dominant species</text>
<text x="135" y="1223" font-family="'Liberation Serif','Times New Roman',serif" font-size="68" fill="#1f3fd0" font-weight="bold" textLength="275.5" lengthAdjust="spacingAndGlyphs">transition</text>
<text x="1639" y="1576" font-family="'Liberation Serif','Times New Roman',serif" font-size="47" fill="#000" font-weight="bold" textLength="283" lengthAdjust="spacingAndGlyphs" transform="rotate(8 1639 1576)">Consumption</text>
<text x="2065" y="1606" font-family="'Liberation Serif','Times New Roman',serif" font-size="48" fill="#000" font-weight="bold" textLength="287" lengthAdjust="spacingAndGlyphs" transform="rotate(-11.7 2065 1606)">Consumption</text>
<text x="2301" y="1412" font-family="'Liberation Serif','Times New Roman',serif" font-size="46" fill="#000" font-weight="bold" textLength="166" lengthAdjust="spacingAndGlyphs" transform="rotate(-28.5 2301 1412)">Feeding</text>
<text x="1704" y="1256" font-family="'Liberation Serif','Times New Roman',serif" font-size="48" fill="#000" font-weight="bold" textLength="355" lengthAdjust="spacingAndGlyphs" transform="rotate(-53 1704 1256)">Nitrogen fixation</text>
<text x="1975" y="1011" font-family="'Liberation Serif','Times New Roman',serif" font-size="48" fill="#000" font-weight="bold" textLength="310" lengthAdjust="spacingAndGlyphs" transform="rotate(65 1975 1011)">Denitrification</text>
<circle cx="1995.6" cy="1545.8" r="2.9" fill="#1d4f86"/>
<circle cx="2011.1" cy="1545.2" r="2.9" fill="#1d4f86"/>
<circle cx="2021.2" cy="1555.6" r="2.9" fill="#1d4f86"/>
<circle cx="2023.6" cy="1572.1" r="2.9" fill="#1d4f86"/>
<circle cx="2021.5" cy="1588" r="2.9" fill="#1d4f86"/>
<circle cx="2015.1" cy="1600.1" r="2.9" fill="#1d4f86"/>
<circle cx="2005" cy="1610.2" r="2.9" fill="#1d4f86"/>
<circle cx="1991.5" cy="1615.6" r="2.9" fill="#1d4f86"/>
<circle cx="1977.4" cy="1616.3" r="2.9" fill="#1d4f86"/>
<circle cx="1961.2" cy="1613.2" r="2.9" fill="#1d4f86"/>
<circle cx="1956.2" cy="1597.4" r="2.9" fill="#1d4f86"/>
<circle cx="1965.3" cy="1585.9" r="2.9" fill="#1d4f86"/>
<circle cx="1973.4" cy="1576.2" r="2.9" fill="#1d4f86"/>
<circle cx="1978.4" cy="1565" r="2.9" fill="#1d4f86"/>
<circle cx="1984.5" cy="1551.9" r="2.9" fill="#1d4f86"/>
<path d="M1995.6,1545.8 L1998,1555.6 M2011.1,1545.2 L2008.1,1554.3 M2021.2,1555.6 L2012.8,1562.3 M2023.6,1572.1 L2014.1,1572.5 M2021.5,1588 L2012.1,1583.9 M2015.1,1600.1 L2006.7,1594 M2005,1610.2 L1999.3,1600.8 M1991.5,1615.6 L1989.9,1604.1 M1977.4,1616.3 L1977.7,1605.5 M1961.2,1613.2 L1971.7,1604.8 M1956.2,1597.4 L1968.3,1599.4 M1965.3,1585.9 L1973.7,1593.3 M1973.4,1576.2 L1983.8,1583.2 M1978.4,1565 L1988.5,1570.4 M1984.5,1551.9 L1991.2,1560.3 " stroke="#1d4f86" stroke-width="2.4" fill="none"/>
<path d="M2000.6,1550.9 C2012.8,1550.9 2017.5,1561.7 2016.5,1573.1 C2015.8,1585.3 2010.1,1594.7 2000.6,1601.4 C1992.6,1607.5 1983.1,1610.9 1975,1608.2 C1967,1605.5 1963.6,1598.1 1968.3,1593.3 C1972.3,1589.3 1980.4,1585.9 1983.1,1577.2 C1985.1,1567.7 1987.2,1551.6 2000.6,1550.9 Z" fill="#1d4f86"/>
<ellipse cx="2009.4" cy="1569.4" rx="1.5" ry="3" fill="#fff" transform="rotate(15 2009.4 1569.4)"/>
<ellipse cx="2005.4" cy="1574.8" rx="1.3" ry="2.4" fill="#fff" transform="rotate(0 2005.4 1574.8)"/>
<ellipse cx="2008.7" cy="1579.5" rx="1.6" ry="3.4" fill="#fff" transform="rotate(10 2008.7 1579.5)"/>
<ellipse cx="2005.7" cy="1588.3" rx="1.5" ry="3.4" fill="#fff" transform="rotate(15 2005.7 1588.3)"/>
<ellipse cx="1996.3" cy="1588.6" rx="1.2" ry="1.9" fill="#fff" transform="rotate(-30 1996.3 1588.6)"/>
<ellipse cx="1993.9" cy="1593.7" rx="1.2" ry="2.2" fill="#fff" transform="rotate(-50 1993.9 1593.7)"/>
<ellipse cx="1997.3" cy="1597" rx="1.5" ry="3.2" fill="#fff" transform="rotate(50 1997.3 1597)"/>
<ellipse cx="1984.8" cy="1603.5" rx="1.5" ry="3.5" fill="#fff" transform="rotate(65 1984.8 1603.5)"/>
<ellipse cx="1974.4" cy="1605.5" rx="2" ry="2.4" fill="#fff" transform="rotate(0 1974.4 1605.5)"/>
<ellipse cx="1992.2" cy="1604.1" rx="1.2" ry="1.7" fill="#fff" transform="rotate(0 1992.2 1604.1)"/>
<ellipse cx="1990.9" cy="1599.7" rx="0.8" ry="1" fill="#fff" transform="rotate(0 1990.9 1599.7)"/>
<ellipse cx="2004" cy="1596.4" rx="0.9" ry="1.5" fill="#fff" transform="rotate(-30 2004 1596.4)"/>
<ellipse cx="1999.8" cy="1589.6" rx="0.7" ry="0.8" fill="#fff" transform="rotate(0 1999.8 1589.6)"/>
<defs><linearGradient id="fishg" x1="0" x2="0" y1="0" y2="1"><stop offset="0" stop-color="#1e1719"/><stop offset="0.42" stop-color="#3d3338"/><stop offset="0.68" stop-color="#8e99bb"/><stop offset="0.9" stop-color="#b9b7b0"/><stop offset="1" stop-color="#6b5d4c"/></linearGradient></defs>
<path d="M2548.1,1253.4 L2559.5,1241.2 L2574.3,1251.7 L2584.8,1263.8 L2579.7,1267.2 Z" fill="#5b4d5e"/>
<path d="M2590.5,1268.5 L2614.1,1258.1 L2605.3,1274.6 L2614.1,1288.7 L2604,1289.4 L2590.5,1279.3 Z" fill="#6c5c72"/>
<path d="M2544.7,1291.4 L2551.4,1306.9 L2556.1,1302.9 L2556.1,1292.8 Z" fill="#6c5c72"/>
<path d="M2572.3,1287.4 L2580.4,1296.8 L2585.5,1294.8 L2584.1,1284.7 Z" fill="#8d7680"/>
<path d="M2548.1,1253.4 L2559.5,1241.2 L2574.3,1251.7 L2584.8,1263.8 L2579.7,1267.2 Z" fill="url(#ffin)"/>
<path d="M2590.5,1268.5 L2614.1,1258.1 L2605.3,1274.6 L2614.1,1288.7 L2604,1289.4 L2590.5,1279.3 Z" fill="url(#ffin)"/>
<defs><pattern id="fsc" width="2.6" height="2.6" patternUnits="userSpaceOnUse" patternTransform="rotate(35)"><circle cx="0.7" cy="0.7" r="0.65" fill="#15101a" opacity="0.6"/><circle cx="2" cy="2" r="0.55" fill="#d9deee" opacity="0.5"/></pattern><pattern id="ffin" width="2.4" height="6" patternUnits="userSpaceOnUse" patternTransform="rotate(-35)"><rect width="1.1" height="6" fill="#2b2230" opacity="0.55"/></pattern></defs>
<path d="M2502.6,1275.3 C2508.3,1268.5 2517.7,1260.4 2531.2,1256.4 C2544.7,1252.3 2564.2,1255 2579.7,1265.8 C2585.1,1267.8 2589.2,1267.2 2594.6,1267.2 L2594.6,1279.3 C2585.1,1280.6 2579.7,1284.7 2568.9,1289.4 C2554.1,1293.5 2533.9,1292.8 2517.7,1286 C2511.7,1283.3 2505.6,1280.6 2502.6,1275.3 Z" fill="url(#fishg)"/>
<path d="M2502.6,1275.3 C2508.3,1268.5 2517.7,1260.4 2531.2,1256.4 C2544.7,1252.3 2564.2,1255 2579.7,1265.8 C2585.1,1267.8 2589.2,1267.2 2594.6,1267.2 L2594.6,1279.3 C2585.1,1280.6 2579.7,1284.7 2568.9,1289.4 C2554.1,1293.5 2533.9,1292.8 2517.7,1286 C2511.7,1283.3 2505.6,1280.6 2502.6,1275.3 Z" fill="url(#fsc)"/>
<circle cx="2512.7" cy="1273.9" r="2.9" fill="#1a1a1a" stroke="#e8d77a" stroke-width="1.1"/>
<path d="M370.6,857 L749,857 L749,820 L821.8,893.4 L749,966.7 L749,929 L370.6,929 Z" fill="#edc050" stroke="#808080" stroke-width="2.5" stroke-linejoin="miter"/>
<ellipse cx="487.6" cy="893.3" rx="57" ry="60" fill="url(#npg)" stroke="#47709b" stroke-width="2"/><text x="487.6" y="919.7" font-family="'Liberation Sans',Arial,sans-serif" font-weight="bold" font-size="75" text-anchor="middle" fill="#000">N</text>
<ellipse cx="634" cy="895.8" rx="57.2" ry="60.6" fill="url(#npg)" stroke="#47709b" stroke-width="2"/><text x="634" y="922" font-family="'Liberation Sans',Arial,sans-serif" font-weight="bold" font-size="75" text-anchor="middle" fill="#000">P</text>
<path d="M507.4,1158.8 L888.6,1158.8 L888.6,1126 L952.3,1190.8 L888.6,1255.7 L888.6,1222.5 L507.4,1222.5 Z" fill="#edc050" stroke="#808080" stroke-width="2.5" stroke-linejoin="miter"/>
<ellipse cx="635.7" cy="1193" rx="47.7" ry="50.5" fill="url(#npg)" stroke="#47709b" stroke-width="2"/><text x="635.7" y="1213.8" font-family="'Liberation Sans',Arial,sans-serif" font-weight="bold" font-size="58" text-anchor="middle" fill="#000">N</text>
<ellipse cx="790" cy="1193" rx="47.6" ry="50.5" fill="url(#npg)" stroke="#47709b" stroke-width="2"/><text x="790" y="1213.8" font-family="'Liberation Sans',Arial,sans-serif" font-weight="bold" font-size="58" text-anchor="middle" fill="#000">P</text>
<path d="M2641.8,1273.8 L2823.4,1273.8 L2823.4,1244.3 L2882,1303.5 L2823.4,1362.7 L2823.4,1332.4 L2641.8,1332.4 Z" fill="#edc050" stroke="#808080" stroke-width="2.5" stroke-linejoin="miter"/>
<ellipse cx="2717.4" cy="1303" rx="44.5" ry="41" fill="url(#npg)" stroke="#47709b" stroke-width="2"/><text x="2717.4" y="1326" font-family="'Liberation Sans',Arial,sans-serif" font-weight="bold" font-size="66" text-anchor="middle" fill="#000">N</text>
<ellipse cx="2783.7" cy="1305.7" rx="45" ry="43" fill="url(#npg)" stroke="#47709b" stroke-width="2"/><text x="2783.7" y="1328" font-family="'Liberation Sans',Arial,sans-serif" font-weight="bold" font-size="66" text-anchor="middle" fill="#000">P</text>
<path d="M0,-26.8 L160,-26.8 L160,-53 L215,0 L160,53 L160,26.8 L0,26.8 Z" fill="#edc050" stroke="#808080" stroke-width="2.5" transform="translate(2377,896) rotate(-57.1)"/>
<ellipse cx="2460.7" cy="802" rx="33" ry="39" fill="url(#npg)" stroke="#47709b" stroke-width="2"/><text x="2460.7" y="823" font-family="'Liberation Sans',Arial,sans-serif" font-weight="bold" font-size="58" text-anchor="middle" fill="#000">P</text>
<ellipse cx="2419.5" cy="872" rx="37" ry="40" fill="url(#npg)" stroke="#47709b" stroke-width="2"/><text x="2419.5" y="893.5" font-family="'Liberation Sans',Arial,sans-serif" font-weight="bold" font-size="60" text-anchor="middle" fill="#000">N</text>
<path d="M1524.3,1605.9 L1584,1665.2 L1555,1665.2 L1555,1803.5 L1584,1803.5 L1524.3,1863.2 L1464.6,1803.5 L1494,1803.5 L1494,1665.2 L1464.6,1665.2 Z" fill="#c55a11" stroke="#000" stroke-width="1.8"/>
<ellipse cx="1522" cy="1687" rx="45.4" ry="39.7" fill="url(#npg)" stroke="#47709b" stroke-width="2"/><text x="1522" y="1710.4" font-family="'Liberation Sans',Arial,sans-serif" font-weight="bold" font-size="65" text-anchor="middle" fill="#000">N</text>
<ellipse cx="1524.3" cy="1782.6" rx="47.3" ry="42.2" fill="url(#npg)" stroke="#47709b" stroke-width="2"/><text x="1524.3" y="1805.7" font-family="'Liberation Sans',Arial,sans-serif" font-weight="bold" font-size="64" text-anchor="middle" fill="#000">P</text>
<path d="M1657,24 L1657,581.5 L3072,581.5" fill="none" stroke="#000" stroke-width="2"/>
<path d="M1647,46 L1657,24 L1667,46" fill="none" stroke="#000" stroke-width="2" stroke-linejoin="miter"/>
<path d="M3074,581.5 L3053,572 L3058,581.5 L3053,591 Z" fill="#000"/>
<defs>
<linearGradient id="redw1" x1="0" x2="1" y1="0" y2="0"><stop offset="0" stop-color="#c33a3a"/><stop offset="0.45" stop-color="#9a2a2b"/><stop offset="1" stop-color="#5e191a"/></linearGradient>
<linearGradient id="redw2" x1="0" x2="1" y1="0" y2="0"><stop offset="0" stop-color="#cf3c3c"/><stop offset="1" stop-color="#9f2b2c"/></linearGradient>
<linearGradient id="navw2" x1="0" x2="1" y1="0" y2="0"><stop offset="0" stop-color="#3c5878"/><stop offset="0.35" stop-color="#2c4159"/><stop offset="1" stop-color="#2a3f55"/></linearGradient>
</defs>
<path d="M2044,258 L2267,365.1 L2267,446.1 L2044,339 Z" fill="#2a3f55" stroke="#f4f4f4" stroke-opacity="0.7" stroke-width="1.2"/>
<path d="M2267,365.1 A298.7,161 0 0 0 2342.2,267 L2342.2,348 A298.7,161 0 0 1 2267,446.1 Z" fill="#2a3f55" stroke="#f4f4f4" stroke-opacity="0.6" stroke-width="1"/>
<path d="M2342.2,267 A298.7,161 0 0 0 2342.7,258 L2342.7,339 A298.7,161 0 0 1 2342.2,348 Z" fill="#2a3f55" stroke="#f4f4f4" stroke-opacity="0.6" stroke-width="1"/>
<path d="M2044,258 L2267,365.1 A298.7,161 0 0 0 2342.2,267 Z" fill="#6a9ad0" stroke="#f4f4f4" stroke-width="1.6" stroke-linejoin="round"/>
<path d="M2044,258 L2342.2,267 A298.7,161 0 0 0 2044,97 Z" fill="#1b72e2" stroke="#f4f4f4" stroke-width="1.6" stroke-linejoin="round"/>
<path d="M1672.4,276.7 A299,164 0 0 0 1713.5,359.7 L1713.5,441.7 A299,164 0 0 1 1672.4,358.7 Z" fill="#2f8d58" stroke="#f4f4f4" stroke-opacity="0.6" stroke-width="1"/>
<path d="M1713.5,359.7 A299,164 0 0 0 2198.8,383.2 L2198.8,465.2 A299,164 0 0 1 1713.5,441.7 Z" fill="url(#redw1)" stroke="#f4f4f4" stroke-opacity="0.6" stroke-width="1"/>
<path d="M1971.4,276.7 L1971.4,112.7 A299,164 0 0 0 1917.9,115.3 Z" fill="#545454" stroke="#f4f4f4" stroke-width="1.6" stroke-linejoin="round"/>
<path d="M1971.4,276.7 L1917.9,115.3 A299,164 0 0 0 1713.5,359.7 Z" fill="#3cb06c" stroke="#f4f4f4" stroke-width="1.6" stroke-linejoin="round"/>
<path d="M1971.4,276.7 L1713.5,359.7 A299,164 0 0 0 2198.8,383.2 Z" fill="#f04243" stroke="#f4f4f4" stroke-width="1.6" stroke-linejoin="round"/>
<path d="M2697,276 L2631.3,435.1 L2631.3,517.1 L2697,358 Z" fill="#e03f40" stroke="#f4f4f4" stroke-opacity="0.7" stroke-width="1.2"/>
<path d="M2396,276 A301,163 0 0 0 2631.3,435.1 L2631.3,517.1 A301,163 0 0 1 2396,358 Z" fill="url(#redw2)" stroke="#f4f4f4" stroke-opacity="0.6" stroke-width="1"/>
<path d="M2697,276 L2697,113 A301,163 0 0 0 2660.3,114.2 Z" fill="#545454" stroke="#f4f4f4" stroke-width="1.6" stroke-linejoin="round"/>
<path d="M2697,276 L2660.3,114.2 A301,163 0 0 0 2398.4,255.6 Z" fill="#3cb06c" stroke="#f4f4f4" stroke-width="1.6" stroke-linejoin="round"/>
<path d="M2697,276 L2398.4,255.6 A301,163 0 0 0 2631.3,435.1 Z" fill="#f04243" stroke="#f4f4f4" stroke-width="1.6" stroke-linejoin="round"/>
<path d="M2709.4,440.5 A298,163.7 0 0 0 3037,360.4 L3037,441.4 A298,163.7 0 0 1 2709.4,521.5 Z" fill="url(#navw2)" stroke="#f4f4f4" stroke-opacity="0.6" stroke-width="1"/>
<path d="M3037,360.4 A298,163.7 0 0 0 3074.4,281 L3074.4,362 A298,163.7 0 0 1 3037,441.4 Z" fill="#0b2d5e" stroke="#f4f4f4" stroke-opacity="0.6" stroke-width="1"/>
<path d="M2776.4,281 L2709.4,440.5 A298,163.7 0 0 0 3037,360.4 Z" fill="#6a9ad0" stroke="#f4f4f4" stroke-width="1.6" stroke-linejoin="round"/>
<path d="M2776.4,281 L3037,360.4 A298,163.7 0 0 0 2776.4,117.3 Z" fill="#1b72e2" stroke="#f4f4f4" stroke-width="1.6" stroke-linejoin="round"/>
<path d="M1830.5,129 L1830.5,29.5 L2570.6,29.5 L2570.6,118" fill="none" stroke="#538135" stroke-width="5.5" stroke-linejoin="miter"/>
<path d="M2558,104 L2570.6,121 L2583,104" fill="none" stroke="#538135" stroke-width="5.5" stroke-linecap="round" stroke-linejoin="round"/>
<path d="M2236.8,132 L2236.8,67 L2936,67" fill="none" stroke="#1f3fd0" stroke-width="3" stroke-linejoin="miter"/>
<path d="M2936,65.5 L2936,138" fill="none" stroke="#1f3fd0" stroke-width="5"/>
<path d="M2924,126 L2936,141 L2948,126" fill="none" stroke="#1f3fd0" stroke-width="5" stroke-linecap="round" stroke-linejoin="round"/>
<path d="M1998,518.6 L1998,552.5 L2627,552.5 L2627,526" fill="none" stroke="#ff0000" stroke-width="5" stroke-linejoin="miter"/>
<path d="M2616,538 L2626.5,523 L2637,538" fill="none" stroke="#ff0000" stroke-width="5" stroke-linecap="round" stroke-linejoin="round"/>
<text x="1724" y="242" font-family="'Liberation Serif','Times New Roman',serif" font-size="44" fill="#ffffff" textLength="160" lengthAdjust="spacingAndGlyphs">30.56%</text>
<clipPath id="cl1"><rect x="1800" y="120" width="171.4" height="60"/></clipPath>
<text x="1841" y="167" font-family="'Liberation Serif','Times New Roman',serif" font-size="44" fill="#ffffff" textLength="137" lengthAdjust="spacingAndGlyphs" clip-path="url(#cl1)">2.89%</text>
<text x="2152" y="229.6" font-family="'Liberation Serif','Times New Roman',serif" font-size="44" fill="#ffffff" textLength="158" lengthAdjust="spacingAndGlyphs">25.64%</text>
<text x="2169" y="312" font-family="'Liberation Serif','Times New Roman',serif" font-size="44" fill="#ffffff" textLength="155" lengthAdjust="spacingAndGlyphs">10.14%</text>
<text x="1877" y="400" font-family="'Liberation Serif','Times New Roman',serif" font-size="44" fill="#ffffff" textLength="160" lengthAdjust="spacingAndGlyphs">28.78%</text>
<clipPath id="cl2"><rect x="2540" y="120" width="157.3" height="60"/></clipPath>
<text x="2580.4" y="167.1" font-family="'Liberation Serif','Times New Roman',serif" font-size="44" fill="#ffffff" textLength="128.6" lengthAdjust="spacingAndGlyphs" clip-path="url(#cl2)">1.89%</text>
<text x="2486.6" y="222.3" font-family="'Liberation Serif','Times New Roman',serif" font-size="44" fill="#ffffff" textLength="128.9" lengthAdjust="spacingAndGlyphs">19.3%</text>
<text x="2481.5" y="354.6" font-family="'Liberation Serif','Times New Roman',serif" font-size="44" fill="#ffffff" textLength="160.2" lengthAdjust="spacingAndGlyphs">21.53%</text>
<text x="2832.7" y="259.8" font-family="'Liberation Serif','Times New Roman',serif" font-size="44" fill="#ffffff" textLength="157.9" lengthAdjust="spacingAndGlyphs">30.53%</text>
<text x="2752.5" y="374.4" font-family="'Liberation Serif','Times New Roman',serif" font-size="44" fill="#ffffff" textLength="155.1" lengthAdjust="spacingAndGlyphs">18.76%</text>
<text x="1659.6" y="108" font-family="'Liberation Serif','Times New Roman',serif" font-size="48" fill="#000" textLength="59.4" lengthAdjust="spacingAndGlyphs">(b)</text>
<text x="1908" y="75.6" font-family="'Liberation Serif','Times New Roman',serif" font-size="60" fill="#3cb06c" font-weight="bold" textLength="299" lengthAdjust="spacingAndGlyphs">Green-11.26</text>
<text x="2581" y="62" font-family="'Liberation Serif','Times New Roman',serif" font-size="60" fill="#1f3fd0" font-weight="bold" textLength="526" lengthAdjust="spacingAndGlyphs" xml:space="preserve">Cyanobacteria  +13.5</text>
<text x="2215" y="547" font-family="'Liberation Serif','Times New Roman',serif" font-size="58" fill="#ff0000" font-weight="bold" textLength="325.5" lengthAdjust="spacingAndGlyphs">Diatoms-7.25</text>
<text x="2778.8" y="638" font-family="'Liberation Serif','Times New Roman',serif" font-size="49.1" fill="#1f3fd0" font-weight="bold">NH<tspan font-size="31.4" dy="9.8">4</tspan><tspan dy="-9.8" font-size="1">&#8203;</tspan>-N:NO<tspan font-size="31.4" dy="9.8">3</tspan><tspan dy="-9.8" font-size="1">&#8203;</tspan>-N</text>
<text x="1602" y="474" font-family="'Liberation Serif','Times New Roman',serif" font-size="50" fill="#000" font-weight="bold" textLength="410" lengthAdjust="spacingAndGlyphs" transform="rotate(-90 1602 474)">Proportion of algae</text>
<rect x="67.2" y="1263" width="601.8" height="552.6" fill="#fff"/>
<rect x="247.4" y="1776.2" width="113.8" height="26.2" fill="#fdc69c" stroke="#444" stroke-width="1"/>
<rect x="247.4" y="1707" width="113.8" height="67.5" fill="#c3b3d7" stroke="#444" stroke-width="1"/>
<rect x="247.4" y="1649.6" width="113.8" height="57.4" fill="#fffe9f" stroke="#444" stroke-width="1"/>
<rect x="247.4" y="1636.1" width="113.8" height="13.5" fill="#a3c1f2" stroke="#444" stroke-width="1"/>
<line x1="247.4" x2="361.2" y1="1775" y2="1775" stroke="#000" stroke-width="1.6"/>
<rect x="474" y="1433" width="113.5" height="369.4" fill="#fdc69c" stroke="#444" stroke-width="1"/>
<rect x="474" y="1403.5" width="113.5" height="29.6" fill="#9fd8a0" stroke="#444" stroke-width="1"/>
<rect x="474" y="1369.7" width="113.5" height="33.8" fill="#c3b3d7" stroke="#444" stroke-width="1"/>
<rect x="474" y="1329.2" width="113.5" height="40.5" fill="#fffe9f" stroke="#444" stroke-width="1"/>
<rect x="190.3" y="1287.5" width="455.2" height="514.9" fill="none" stroke="#222" stroke-width="1.3"/>
<text x="162.3" y="1810.2" font-family="'Liberation Serif','Times New Roman',serif" font-size="24" fill="#000" font-weight="bold" textLength="13.7" lengthAdjust="spacingAndGlyphs">0</text>
<text x="134.9" y="1725.8" font-family="'Liberation Serif','Times New Roman',serif" font-size="24" fill="#000" font-weight="bold" textLength="41.1" lengthAdjust="spacingAndGlyphs">100</text>
<text x="134.9" y="1641.3" font-family="'Liberation Serif','Times New Roman',serif" font-size="24" fill="#000" font-weight="bold" textLength="41.1" lengthAdjust="spacingAndGlyphs">200</text>
<text x="134.9" y="1556.9" font-family="'Liberation Serif','Times New Roman',serif" font-size="24" fill="#000" font-weight="bold" textLength="41.1" lengthAdjust="spacingAndGlyphs">300</text>
<text x="134.9" y="1472.5" font-family="'Liberation Serif','Times New Roman',serif" font-size="24" fill="#000" font-weight="bold" textLength="41.1" lengthAdjust="spacingAndGlyphs">400</text>
<text x="134.9" y="1388" font-family="'Liberation Serif','Times New Roman',serif" font-size="24" fill="#000" font-weight="bold" textLength="41.1" lengthAdjust="spacingAndGlyphs">500</text>
<text x="134.9" y="1303.6" font-family="'Liberation Serif','Times New Roman',serif" font-size="24" fill="#000" font-weight="bold" textLength="41.1" lengthAdjust="spacingAndGlyphs">600</text>
<path d="M190.3,1802.4 h-9 M190.3,1718 h-9 M190.3,1633.5 h-9 M190.3,1549.1 h-9 M190.3,1464.7 h-9 M190.3,1380.2 h-9 M190.3,1295.8 h-9 M190.3,1760.2 h-5 M190.3,1675.8 h-5 M190.3,1591.3 h-5 M190.3,1506.9 h-5 M190.3,1422.5 h-5 M190.3,1338 h-5 M303.6,1802.4 v7 M530.8,1802.4 v7 M417.8,1802.4 v4 " stroke="#222" stroke-width="1.3" fill="none"/>
<text x="106" y="1699" font-family="'Liberation Serif','Times New Roman',serif" font-size="22" fill="#000" font-weight="bold" textLength="307.5" lengthAdjust="spacingAndGlyphs" transform="rotate(-90 106 1699)">Algal density(ten thousand/L)</text>
<text x="289" y="1621.4" font-family="'Liberation Serif','Times New Roman',serif" font-size="24" fill="#000" font-weight="bold" textLength="41" lengthAdjust="spacingAndGlyphs">197</text>
<text x="500.5" y="1321.3" font-family="'Liberation Serif','Times New Roman',serif" font-size="24" fill="#000" font-weight="bold" textLength="41" lengthAdjust="spacingAndGlyphs">559</text>
<text x="194.7" y="1322.6" font-family="'Liberation Serif','Times New Roman',serif" font-size="29" fill="#000" font-weight="bold" textLength="42" lengthAdjust="spacingAndGlyphs">(a)</text>
<path d="M299.2,1584 L299.2,1381.6 A66,66 0 0 1 365.2,1315.6 L410.4,1315.6 L410.4,1297 L446.4,1333 L410.4,1369.6 L410.4,1352 L365,1352 A29.3,29.3 0 0 0 335.7,1381.3 L335.7,1584 Z" fill="#1f3fd0"/>
<path d="M357.2,1773 L464,1436.8 M465.7,1451.7 L464,1436.8 M454,1448 L464,1436.8" fill="none" stroke="#000" stroke-width="3.2" stroke-linecap="round" stroke-linejoin="round"/>
<path d="M363.8,1794.5 L468.4,1794.5 M454.7,1800.6 L468.4,1794.5 M454.7,1788.4 L468.4,1794.5" fill="none" stroke="#000" stroke-width="3.2" stroke-linecap="round" stroke-linejoin="round"/>
<text x="246.5" y="1866" font-family="'Liberation Serif','Times New Roman',serif" font-size="53" fill="#000" font-weight="bold" textLength="114.2" lengthAdjust="spacingAndGlyphs">2012</text>
<text x="472.8" y="1866" font-family="'Liberation Serif','Times New Roman',serif" font-size="53" fill="#000" font-weight="bold" textLength="113.2" lengthAdjust="spacingAndGlyphs">2022</text>
<text x="434" y="1613.5" font-family="'Liberation Serif','Times New Roman',serif" font-size="57" fill="#1f3fd0" font-weight="bold" textLength="348.5" lengthAdjust="spacingAndGlyphs">Non-fixing-N-</text>
<text x="432.4" y="1683" font-family="'Liberation Serif','Times New Roman',serif" font-size="57" fill="#1f3fd0" font-weight="bold" textLength="350.1" lengthAdjust="spacingAndGlyphs">C<tspan font-style="italic">yanpbacteria</tspan></text>
<rect x="2468" y="1438.5" width="648" height="439.5" fill="#fff"/>
<path d="M2520.2,1438.5 v6 M2520.2,1877 v-4 M2575.9,1438.5 v11 M2575.9,1877 v-4 M2632.5,1438.5 v6 M2632.5,1877 v-4 M2682.4,1438.5 v11 M2682.4,1877 v-4 M2738.1,1438.5 v6 M2738.1,1877 v-4 M2791.6,1438.5 v11 M2791.6,1877 v-4 M2848.2,1438.5 v6 M2848.2,1877 v-4 M2902.9,1438.5 v11 M2902.9,1877 v-4 M2957,1438.5 v6 M2957,1877 v-4 M3009.5,1438.5 v11 M3009.5,1877 v-4 M3065.2,1438.5 v6 M3065.2,1877 v-4 " stroke="#444" stroke-width="1.4"/>
<line x1="2468" x2="3116" y1="1877" y2="1877" stroke="#333" stroke-width="1.5"/>
<polyline points="2468,1875.6 2481.4,1873.1 2487.7,1874.8 2497.3,1870.7 2508.4,1859.9 2516.4,1815.2 2523.4,1861.6 2530.7,1854.9 2540.2,1810.3 2545,1811.1 2549.8,1845 2552,1815.2 2555.2,1818.5 2562.5,1866.5 2573.6,1835.1 2583.2,1752.4 2586.4,1770.6 2590.2,1751.5 2595.9,1836.7 2605.4,1863.2 2616.6,1848.3 2624.5,1821.8 2629.3,1765.6 2632.5,1843.4 2634.7,1767.2 2643.6,1853.3 2651.6,1747.4 2656.4,1692.8 2659.5,1712.7 2661.8,1692.8 2667.5,1861.6 2673.9,1797 2678.6,1755.7 2683.4,1757.3 2691.4,1826.8 2697.7,1838.4 2704.1,1859.9 2713.6,1830.1 2718.4,1772.2 2721.6,1670.5 2724.8,1755.7 2731.1,1805.3 2739.1,1780.5 2743.8,1788.8 2749.3,1775.5 2753.4,1797 2759.8,1772.2 2764.5,1741.6 2770.9,1863.2 2780.4,1854.9 2786.8,1859.9 2793.2,1870.7 2802.7,1871.5 2812.3,1868.2 2821.8,1856.6 2826.6,1871.5 2832.9,1858.2 2840.9,1871.5 2848.8,1853.3 2856.8,1818.5 2861.6,1863.2 2866.3,1862.4 2874.3,1874.8 2887,1866.5 2893.4,1874.8 2901.3,1854.9 2910.3,1773.9 2914.1,1821.8 2920.4,1859.9 2926.8,1856.6 2936.3,1783.8 2941.1,1779.7 2945.9,1780.5 2953.8,1854.9 2961.8,1841.7 2968.2,1846.7 2977.1,1821.8 2984.1,1843.4 2993.6,1841.7 3001.6,1829.3 3006.3,1859.9 3012.7,1861.6 3023.8,1841.7 3030.2,1856.6 3035,1854.9 3042.9,1871.5 3052.5,1849.1 3058.8,1871.5 3073.2,1859.9 3081.1,1854.9 3090.7,1870.7 3098.6,1861.6 3108.2,1871.5 3116.1,1873.1" fill="none" stroke="#6b86a8" stroke-width="1.9" stroke-linejoin="round"/>
<polyline points="2468,1875.6 2481.4,1872.2 2487.7,1874.5 2497.3,1868.7 2508.4,1853.9 2516.4,1792 2523.4,1856.1 2530.7,1847 2540.2,1785.1 2545,1786.3 2549.8,1833.2 2552,1792 2555.2,1796.6 2562.5,1863 2573.6,1819.5 2583.2,1705 2586.4,1730.1 2590.2,1703.8 2595.9,1821.8 2605.4,1858.4 2616.6,1837.8 2624.5,1801.2 2629.3,1723.3 2632.5,1830.9 2634.7,1725.6 2643.6,1844.7 2651.6,1698.1 2656.4,1622.5 2659.5,1650 2661.8,1622.5 2667.5,1856.1 2673.9,1766.8 2678.6,1709.5 2683.4,1711.8 2691.4,1808 2697.7,1824.1 2704.1,1853.9 2713.6,1812.6 2718.4,1732.4 2721.6,1591.6 2724.8,1709.5 2731.1,1778.3 2739.1,1743.9 2743.8,1755.3 2749.3,1737 2753.4,1766.8 2759.8,1732.4 2764.5,1690.1 2770.9,1858.4 2780.4,1847 2786.8,1853.9 2793.2,1868.7 2802.7,1869.9 2812.3,1865.3 2821.8,1849.3 2826.6,1869.9 2832.9,1851.6 2840.9,1869.9 2848.8,1844.7 2856.8,1796.6 2861.6,1858.4 2866.3,1857.3 2874.3,1874.5 2887,1863 2893.4,1874.5 2901.3,1847 2910.3,1734.7 2914.1,1801.2 2920.4,1853.9 2926.8,1849.3 2936.3,1748.5 2941.1,1742.7 2945.9,1743.9 2953.8,1847 2961.8,1828.7 2968.2,1835.5 2977.1,1801.2 2984.1,1830.9 2993.6,1828.7 3001.6,1811.5 3006.3,1853.9 3012.7,1856.1 3023.8,1828.7 3030.2,1849.3 3035,1847 3042.9,1869.9 3052.5,1839 3058.8,1869.9 3073.2,1853.9 3081.1,1847 3090.7,1868.7 3098.6,1856.1 3108.2,1869.9 3116.1,1872.2" fill="none" stroke="#efd265" stroke-width="2.2" stroke-linejoin="round"/>
<g transform="translate(1.6,0)"><polyline points="2468,1875.6 2481.4,1871 2487.7,1874.1 2497.3,1866.4 2508.4,1846.4 2516.4,1763.5 2523.4,1849.5 2530.7,1837.2 2540.2,1754.3 2545,1755.9 2549.8,1818.8 2552,1763.5 2555.2,1769.7 2562.5,1858.7 2573.6,1800.4 2583.2,1646.9 2586.4,1680.7 2590.2,1645.3 2595.9,1803.5 2605.4,1852.6 2616.6,1825 2624.5,1775.8 2629.3,1671.4 2632.5,1815.7 2634.7,1674.5 2643.6,1834.2 2651.6,1637.7 2656.4,1536.3 2659.5,1573.2 2661.8,1536.3 2667.5,1849.5 2673.9,1729.8 2678.6,1653 2683.4,1656.1 2691.4,1785 2697.7,1806.5 2704.1,1846.4 2713.6,1791.2 2718.4,1683.7 2721.6,1494.9 2724.8,1653 2731.1,1745.1 2739.1,1699.1 2743.8,1714.4 2749.3,1689.9 2753.4,1729.8 2759.8,1683.7 2764.5,1626.9 2770.9,1852.6 2780.4,1837.2 2786.8,1846.4 2793.2,1866.4 2802.7,1867.9 2812.3,1861.8 2821.8,1840.3 2826.6,1867.9 2832.9,1843.4 2840.9,1867.9 2848.8,1834.2 2856.8,1769.7 2861.6,1852.6 2866.3,1851.1 2874.3,1874.1 2887,1858.7 2893.4,1874.1 2901.3,1837.2 2910.3,1686.8 2914.1,1775.8 2920.4,1846.4 2926.8,1840.3 2936.3,1705.2 2941.1,1697.5 2945.9,1699.1 2953.8,1837.2 2961.8,1812.7 2968.2,1821.9 2977.1,1775.8 2984.1,1815.7 2993.6,1812.7 3001.6,1789.6 3006.3,1846.4 3012.7,1849.5 3023.8,1812.7 3030.2,1840.3 3035,1837.2 3042.9,1867.9 3052.5,1826.5 3058.8,1867.9 3073.2,1846.4 3081.1,1837.2 3090.7,1866.4 3098.6,1849.5 3108.2,1867.9 3116.1,1871" fill="none" stroke="#c4c842" stroke-width="1.8" stroke-linejoin="round"/></g>
<polyline points="2468,1875.6 2481.4,1870.8 2487.7,1874 2497.3,1866.1 2508.4,1845.4 2516.4,1759.5 2523.4,1848.6 2530.7,1835.8 2540.2,1749.9 2545,1751.5 2549.8,1816.8 2552,1759.5 2555.2,1765.8 2562.5,1858.1 2573.6,1797.7 2583.2,1638.6 2586.4,1673.6 2590.2,1637 2595.9,1800.8 2605.4,1851.8 2616.6,1823.1 2624.5,1772.2 2629.3,1664 2632.5,1813.6 2634.7,1667.2 2643.6,1832.7 2651.6,1629 2656.4,1524 2659.5,1562.2 2661.8,1524 2667.5,1848.6 2673.9,1724.5 2678.6,1644.9 2683.4,1648.1 2691.4,1781.8 2697.7,1804 2704.1,1845.4 2713.6,1788.1 2718.4,1676.8 2721.6,1481.1 2724.8,1644.9 2731.1,1740.4 2739.1,1692.7 2743.8,1708.6 2749.3,1683.1 2753.4,1724.5 2759.8,1676.8 2764.5,1617.9 2770.9,1851.8 2780.4,1835.8 2786.8,1845.4 2793.2,1866.1 2802.7,1867.7 2812.3,1861.3 2821.8,1839 2826.6,1867.7 2832.9,1842.2 2840.9,1867.7 2848.8,1832.7 2856.8,1765.8 2861.6,1851.8 2866.3,1850.2 2874.3,1874 2887,1858.1 2893.4,1874 2901.3,1835.8 2910.3,1679.9 2914.1,1772.2 2920.4,1845.4 2926.8,1839 2936.3,1699 2941.1,1691.1 2945.9,1692.7 2953.8,1835.8 2961.8,1810.4 2968.2,1819.9 2977.1,1772.2 2984.1,1813.6 2993.6,1810.4 3001.6,1786.5 3006.3,1845.4 3012.7,1848.6 3023.8,1810.4 3030.2,1839 3035,1835.8 3042.9,1867.7 3052.5,1824.7 3058.8,1867.7 3073.2,1845.4 3081.1,1835.8 3090.7,1866.1 3098.6,1848.6 3108.2,1867.7 3116.1,1870.8" fill="none" stroke="#4db87e" stroke-width="2.2" stroke-linejoin="round"/>
<polyline points="2469.3,1875 2482.6,1873.9 2489,1874.6 2498.5,1872.9 2509.7,1868.3 2517.6,1849.4 2524.6,1869 2532,1866.2 2541.5,1847.3 2546.3,1847.7 2551,1862 2553.3,1849.4 2556.4,1850.8 2563.8,1871.1 2574.9,1857.8 2584.4,1824.3 2587.6,1830.5 2591.4,1824.1 2597.2,1858.5 2606.7,1869.7 2617.9,1863.4 2625.8,1852.2 2630.6,1828.4 2633.8,1861.3 2636,1829.1 2644.9,1865.5 2652.9,1823.1 2657.6,1810.5 2660.8,1815.1 2663,1810.5 2668.8,1869 2675.1,1841.7 2679.9,1825 2684.7,1825.4 2692.6,1854.3 2699,1859.2 2705.4,1868.3 2714.9,1855.7 2719.7,1831.2 2722.9,1805.4 2726,1825 2732.4,1845.2 2740.3,1834.7 2745.1,1838.2 2750.5,1832.6 2754.7,1841.7 2761,1831.2 2765.8,1821.8 2772.2,1869.7 2781.7,1866.2 2788.1,1868.3 2794.4,1872.9 2804,1873.2 2813.5,1871.8 2823.1,1866.9 2827.8,1873.2 2834.2,1867.6 2842.2,1873.2 2850.1,1865.5 2858.1,1850.8 2862.8,1869.7 2867.6,1869.4 2875.6,1874.6 2888.3,1871.1 2894.7,1874.6 2902.6,1866.2 2911.5,1831.9 2915.3,1852.2 2921.7,1868.3 2928.1,1866.9 2937.6,1836.1 2942.4,1834.4 2947.2,1834.7 2955.1,1866.2 2963.1,1860.6 2969.4,1862.7 2978.3,1852.2 2985.3,1861.3 2994.9,1860.6 3002.8,1855.4 3007.6,1868.3 3014,1869 3025.1,1860.6 3031.5,1866.9 3036.2,1866.2 3044.2,1873.2 3053.7,1863.8 3060.1,1873.2 3074.4,1868.3 3082.4,1866.2 3091.9,1872.9 3099.9,1869 3109.4,1873.2 3117.4,1873.9" fill="none" stroke="#d9534f" stroke-width="2.3" stroke-linejoin="round"/>
<line x1="2923.6" x2="2966.6" y1="1479.5" y2="1479.5" stroke="#d9534f" stroke-width="2"/>
<text x="2973" y="1490.5" font-family="'Liberation Sans',Arial,sans-serif" font-size="31" fill="#3a3a3a" textLength="133" lengthAdjust="spacingAndGlyphs">Baseline scenario</text>
<line x1="2923.6" x2="2966.6" y1="1521" y2="1521" stroke="#6b86a8" stroke-width="2"/>
<text x="2973" y="1532" font-family="'Liberation Sans',Arial,sans-serif" font-size="31" fill="#3a3a3a" textLength="12" lengthAdjust="spacingAndGlyphs">D</text>
<line x1="2923.6" x2="2966.6" y1="1562.5" y2="1562.5" stroke="#efd265" stroke-width="2"/>
<text x="2973" y="1573.5" font-family="'Liberation Sans',Arial,sans-serif" font-size="31" fill="#3a3a3a" textLength="11" lengthAdjust="spacingAndGlyphs">E</text>
<line x1="2923.6" x2="2966.6" y1="1604.5" y2="1604.5" stroke="#4db87e" stroke-width="2"/>
<text x="2973" y="1615.5" font-family="'Liberation Sans',Arial,sans-serif" font-size="31" fill="#3a3a3a" textLength="9" lengthAdjust="spacingAndGlyphs">F</text>
<text x="2500.5" y="1500" font-family="'Liberation Serif','Times New Roman',serif" font-size="49" fill="#000" font-weight="bold" textLength="159" lengthAdjust="spacingAndGlyphs">SSP585</text>
<defs><pattern id="spk" width="7" height="7" patternUnits="userSpaceOnUse"><rect width="7" height="7" fill="none"/><circle cx="1.5" cy="1.5" r="1.1" fill="#f6b23a"/><circle cx="5" cy="4.6" r="0.9" fill="#f9c74f"/><circle cx="2.5" cy="5.6" r="0.7" fill="#b8320f"/><circle cx="5.8" cy="1.2" r="0.7" fill="#c9400f"/></pattern><linearGradient id="thg" x1="0" x2="1" y1="0" y2="0"><stop offset="0" stop-color="#e8541f"/><stop offset="0.55" stop-color="#ee6a24"/><stop offset="1" stop-color="#cf3d12"/></linearGradient><radialGradient id="thb" cx="0.45" cy="0.4" r="0.7"><stop offset="0" stop-color="#e0792a"/><stop offset="0.7" stop-color="#c65a1c"/><stop offset="1" stop-color="#a8460f"/></radialGradient></defs>
<g>
<path d="M3045.2,1687 L3058,1687 L3060.6,1752 L3045.8,1752 Z" fill="url(#thg)"/>
<path d="M3045.2,1687 L3058,1687 L3060.6,1752 L3045.8,1752 Z" fill="url(#spk)" opacity="0.75"/>
<path d="M3044.8,1688 L3044.8,1677 Q3046,1671.5 3052,1671.5 Q3057.5,1672 3057.8,1680 L3057.8,1688 Z" fill="#d6d2cd"/>
<ellipse cx="3053.3" cy="1764" rx="23.2" ry="13" fill="url(#thb)"/>
<ellipse cx="3053.3" cy="1764" rx="23.2" ry="13" fill="url(#spk)" opacity="0.7"/>
<path d="M3019.3,1695.7 h18.5" stroke="#c0392b" stroke-width="1.5" fill="none" opacity="0.85"/>
<circle cx="3022" cy="1695.4" r="1.7" fill="none" stroke="#c0392b" stroke-width="1" opacity="0.8"/>
<path d="M3027,1675.5h9 M3020,1681h8 M3021,1687.5h7 M3020,1702.5h7 M3034,1702.5h4 M3020,1711h5 M3034,1683v16 M3036,1683v16 M3038,1683v16" stroke="#b8a8a8" stroke-width="1" fill="none" opacity="0.55"/>
</g>
<text x="2551" y="1752" font-family="'Liberation Serif','Times New Roman',serif" font-size="67" fill="#1f3fd0" font-weight="bold" textLength="436" lengthAdjust="spacingAndGlyphs">Cyanobacterial</text>
<text x="2681.5" y="1830.5" font-family="'Liberation Serif','Times New Roman',serif" font-size="67" fill="#1f3fd0" font-weight="bold" textLength="173.5" lengthAdjust="spacingAndGlyphs">bloom</text>
</svg></body></html>
